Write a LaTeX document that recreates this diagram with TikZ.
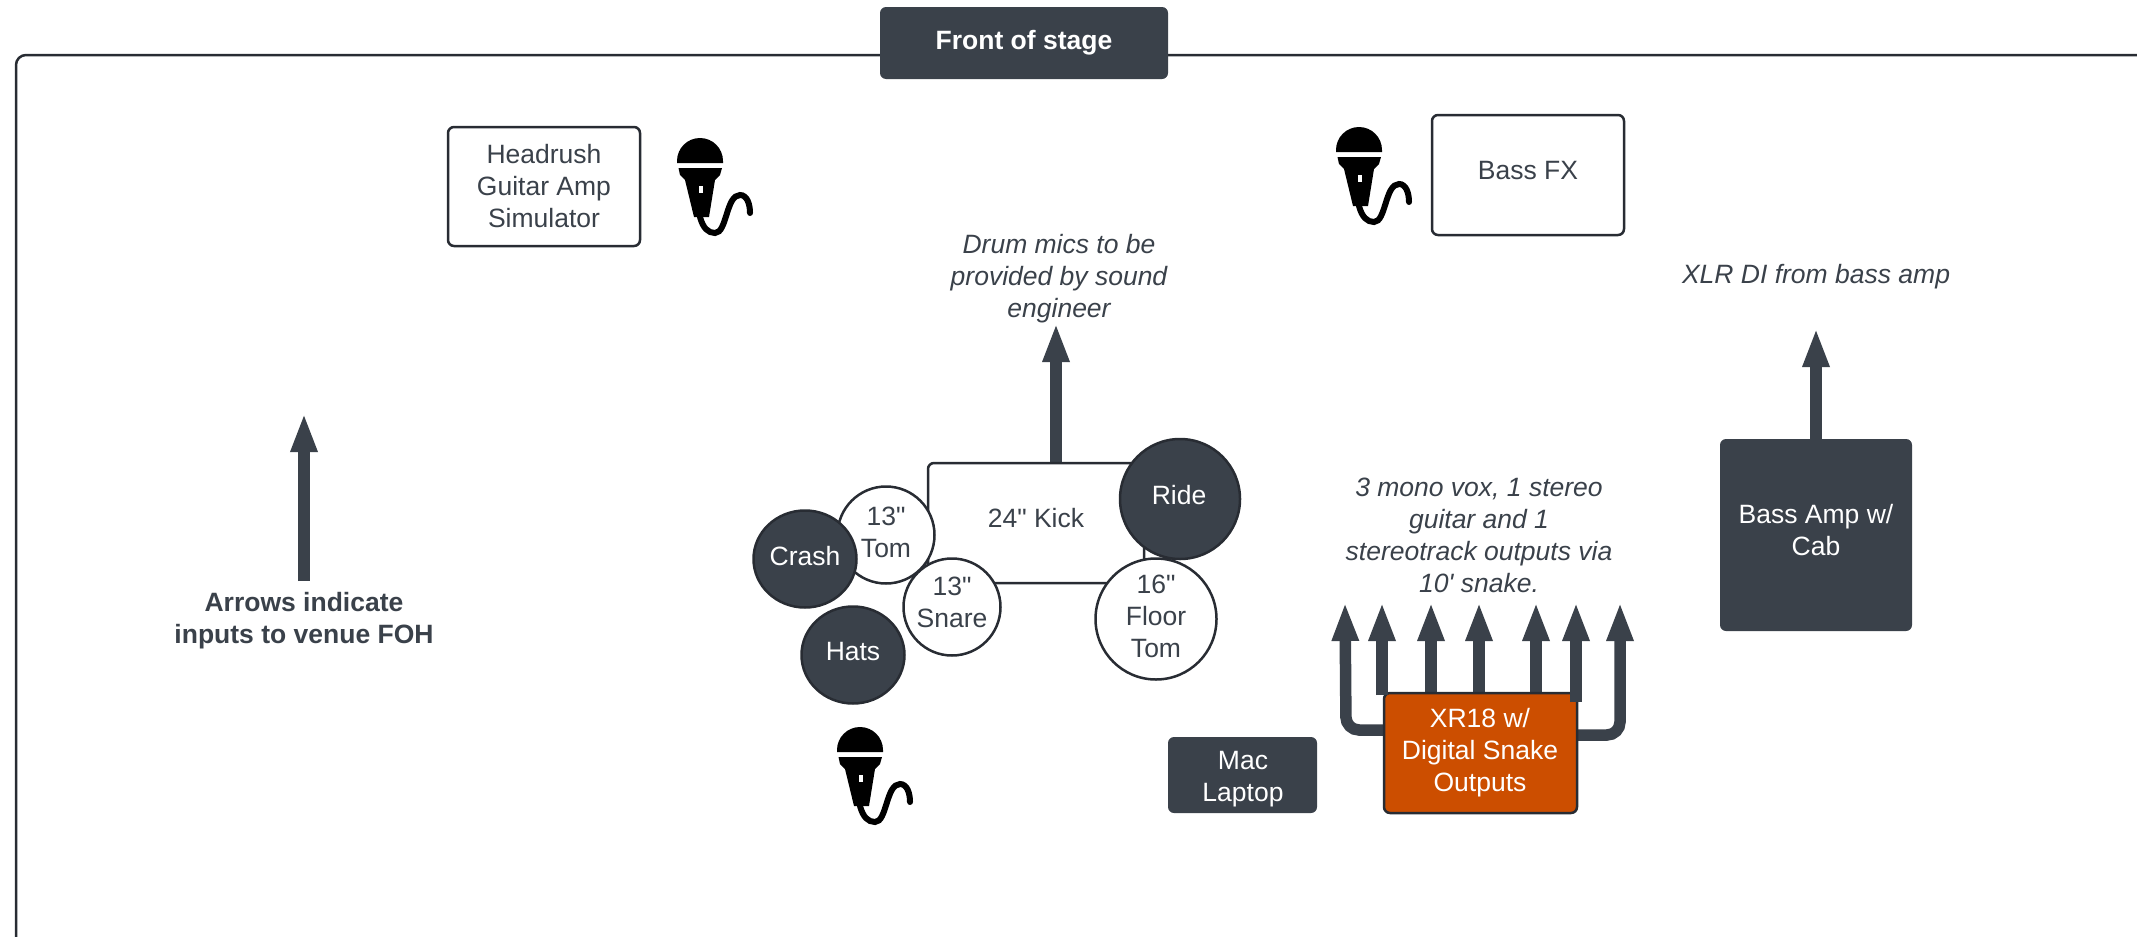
\documentclass[tikz,border=0pt]{standalone}
\usepackage{fontspec}
\setmainfont{Liberation Sans}[Ligatures=TeXOff]
\usetikzlibrary{arrows.meta,shapes.geometric}
\definecolor{slate}{HTML}{3A414A}
\definecolor{ink}{HTML}{282C33}
\definecolor{rust}{HTML}{CC4E00}
\tikzset{
  x=1pt,y=-1pt,
  every node/.style={font=\fontsize{26.5}{32}\selectfont,align=center,inner sep=0pt,outer sep=0pt,text=slate},
  lightbox/.style={draw=ink,line width=2.5pt,fill=white,rounded corners=6pt,anchor=north west},
  darkbox/.style={fill=slate,rounded corners=6pt,anchor=north west,text=white},
  whitedrum/.style={circle,draw=ink,line width=2.5pt,fill=white},
  darkdrum/.style={circle,draw=ink,line width=2.5pt,fill=slate,text=white},
  darkoval/.style={ellipse,draw=ink,line width=2.5pt,fill=slate,minimum width=103pt,minimum height=97pt},
  lighttext/.style={text=white},
  note/.style={font=\fontsize{26.5}{32}\selectfont\itshape},
  feed/.style={draw=slate,line width=11.5pt,-{Triangle[length=39pt,width=24.5pt]}},
  mic/.pic={
    \fill[black] (0,25)--(0,23) arc[start angle=180,end angle=360,radius=23]--(46,25)--cycle;
    \fill[black] (1.5,30)--(45,30)--(43,37)--(38,42)--(32,79)--(17,79)--(8,42)--(3,37)--cycle;
    \fill[white] (22,48) rectangle (26,55);
    \draw[black,line width=6pt,line cap=round] (23,79) .. controls (26,90) and (31,95) .. (38,95) .. controls (50,95) and (49,57) .. (63,57) .. controls (70,57) and (73,66) .. (73,75);
  }
}
\begin{document}
\begin{tikzpicture}
\useasboundingbox (0,0) rectangle (2137,937);
\draw[ink,line width=2.5pt,rounded corners=10pt] (16,940)--(16,55)--(2140,55);
\node[darkbox,minimum width=288pt,minimum height=72pt,font=\fontsize{26.5}{32}\selectfont\bfseries] (stage) at (880,7) {Front of stage};

\node[lightbox,minimum width=192pt,minimum height=119pt] (headrush) at (448,127) {};
\node (headrushtext) at (544,186) {Headrush\\Guitar Amp\\Simulator};
\node[lightbox,minimum width=192pt,minimum height=120pt] (bassfx) at (1432,115) {};
\node (bassfxtext) at (1528,171) {Bass FX};
\pic at (677,138) {mic};
\pic at (1336,127) {mic};
\pic at (837,727) {mic};

% legend
\coordinate (legendbase) at (304,581);
\coordinate (legendtip) at (304,413);
\draw[feed] (legendbase)--(legendtip);
\node[font=\fontsize{26.5}{32}\selectfont\bfseries] (legend) at (304,621) {Arrows indicate\\inputs to venue FOH};

% drums
\coordinate (drumout) at (1056,323);
\coordinate (drumbase) at (1056,466);
\draw[feed] (drumbase)--(drumout);
\node[note] (drumnote) at (1059,279) {Drum mics to be\\provided by sound\\engineer};
\node[lightbox,minimum width=216pt,minimum height=120pt] (kick) at (928,463) {};
\node (kicktext) at (1036,518) {24" Kick};
\node[whitedrum,minimum size=97pt] (tom) at (886,535) {};
\node (tomtext) at (886,532) {13"\\Tom};
\node[darkoval] (crash) at (805,559) {};
\node[lighttext] (crashtext) at (805,556) {Crash};
\node[whitedrum,minimum size=97pt] (snare) at (952,607) {};
\node (snaretext) at (952,602) {13"\\Snare};
\node[darkoval] (hats) at (853,655) {};
\node[lighttext] (hatstext) at (853,652) {Hats};
\node[darkdrum,minimum size=120pt] (ride) at (1180,499) {};
\node[lighttext] (ridetext) at (1179,495) {Ride};
\node[whitedrum,minimum size=121pt] (floor) at (1156,619) {};
\node (floortext) at (1156,616) {16"\\Floor\\Tom};

% bass
\node[note] (xlr) at (1816,277) {XLR DI from bass amp};
\coordinate (bassout) at (1816,328);
\coordinate (bassbase) at (1816,442);
\draw[feed] (bassbase)--(bassout);
\node[darkbox,minimum width=192pt,minimum height=192pt] (bassamp) at (1720,439) {};
\node[lighttext] (basstext) at (1816,530) {Bass Amp w/\\Cab};

% XR18
\node[note] (snakenote) at (1479,535) {3 mono vox, 1 stereo\\guitar and 1\\stereotrack outputs via\\10' snake.};
\node[darkbox,minimum width=149pt,minimum height=76pt] (laptop) at (1168,737) {};
\node[lighttext] (laptoptext) at (1243,779) {Mac\\Laptop};
\coordinate (a1) at (1345,602);
\coordinate (a2) at (1382,602);
\coordinate (a3) at (1431,602);
\coordinate (a4) at (1479,602);
\coordinate (a5) at (1536,602);
\coordinate (a6) at (1576,602);
\coordinate (a7) at (1620,602);
\coordinate (l1) at (1386,730);
\coordinate (l2) at (1346,730);
\coordinate (r1) at (1574,735);
\coordinate (r2) at (1620,735);
\draw[feed,rounded corners=13pt] (l1)--(l2)--(a1);
\draw[feed,rounded corners=13pt] (r1)--(r2)--(a7);
\draw[feed] (1431,696)--(a3);
\draw[feed] (1479,696)--(a4);
\draw[feed] (1536,696)--(a5);
\node[lightbox,fill=rust,minimum width=193pt,minimum height=120pt] (xr) at (1384,693) {};
\node[lighttext] (xrtext) at (1480,753) {XR18 w/\\Digital Snake\\Outputs};
\draw[feed] (1382,695)--(a2);
\draw[feed] (1576,702)--(a6);
\end{tikzpicture}
\end{document}
